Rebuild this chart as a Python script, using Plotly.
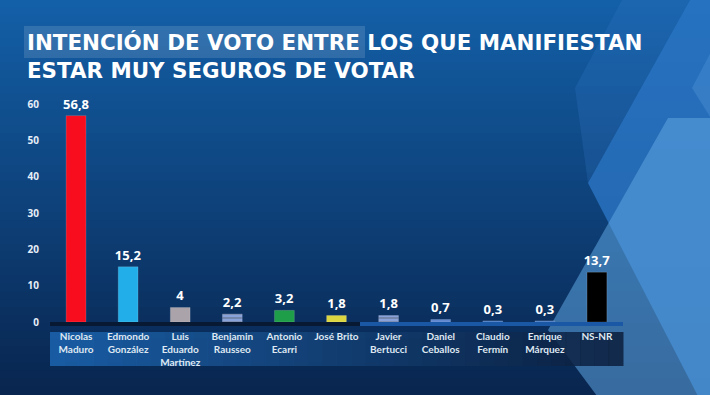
import plotly.graph_objects as go

categories = ["Nicolas<br>Maduro", "Edmondo<br>González", "Luis<br>Eduardo<br>Martínez",
              "Benjamin<br>Rausseo", "Antonio<br>Ecarri", "José Brito", "Javier<br>Bertucci",
              "Daniel<br>Ceballos", "Claudio<br>Fermín", "Enrique<br>Márquez", "NS-NR"]
values = [56.8, 15.2, 4, 2.2, 3.2, 1.8, 1.8, 0.7, 0.3, 0.3, 13.7]
value_labels = ["56,8", "15,2", "4", "2,2", "3,2", "1,8", "1,8", "0,7", "0,3", "0,3", "13,7"]
y_ticks = [0, 10, 20, 30, 40, 50, 60]
title_line1 = "INTENCIÓN DE VOTO ENTRE LOS QUE MANIFIESTAN"
title_line2 = "ESTAR MUY SEGUROS DE VOTAR"

bar_colors = ["#f70d1e", "#22aee8", "#aaa4aa", "#8aa2da", "#1e9e48", "#dcd640",
              "#8aa2da", "#5f88d0", "#3f72c0", "#3f72c0", "#000000"]
patterns = ["", "", "", "-", "", "", "-", "", "", "", ""]

W, H = 710, 395
L, R, T, B = 50, 87, 104, 73
pw, ph = W - L - R, H - T - B

def px(x, y):
    return (x - L) / pw, (H - B - y) / ph

def poly(pts, color):
    d = "M " + " L ".join(f"{px(x, y)[0]:.4f},{px(x, y)[1]:.4f}" for x, y in pts) + " Z"
    return dict(type="path", xref="paper", yref="paper", path=d, fillcolor=color,
                line_width=0, layer="below")

def prect(x0, y0, x1, y1, color, layer="below"):
    return dict(type="rect", xref="paper", yref="paper", layer=layer,
                x0=px(x0, 0)[0], x1=px(x1, 0)[0], y0=px(0, y1)[1], y1=px(0, y0)[1],
                fillcolor=color, line_width=0)

shapes = []
# vertical gradient background
n = 50
top = (20, 96, 168)
bot = (9, 38, 80)
for i in range(n):
    t = i / (n - 1)
    c = tuple(int(top[k] + (bot[k] - top[k]) * t) for k in range(3))
    shapes.append(prect(-5, H * i / n - 1, W + 5, H * (i + 1) / n + 1, f"rgb{c}"))

shapes.append(poly([(622, 0), (690, 0), (588, 183), (575, 88)], "rgba(50,120,200,0.25)"))
shapes.append(poly([(690, 0), (720, 0), (720, 400), (700, 400), (588, 183)], "rgba(45,120,200,0.75)"))
shapes.append(poly([(668, 118), (720, 118), (720, 400), (600, 400), (548, 330)], "rgba(95,165,225,0.55)"))
shapes.append(poly([(692, 88), (712, 50), (712, 120)], "rgba(70,140,210,0.5)"))
# title highlight
shapes.append(prect(24, 26, 365, 58, "rgba(255,255,255,0.13)"))

# category label box (horizontal gradient)
m = 40
for i in range(m):
    t = i / (m - 1)
    a = (int(28 + (12 - 28) * t), int(100 + (30 - 100) * t), int(175 + (60 - 175) * t))
    x0 = 50 + (623 - 50) * i / m
    x1 = 50 + (623 - 50) * (i + 1) / m + 0.5
    shapes.append(prect(x0, 332, x1, 366, f"rgba({a[0]},{a[1]},{a[2]},0.85)"))
# baseline
shapes.append(prect(50, 322, 360, 326, "#081a33", layer="above"))
shapes.append(prect(360, 322, 623, 326, "#1a58a6", layer="above"))

fig = go.Figure(go.Bar(
    x=categories, y=values, text=value_labels, textposition="outside",
    cliponaxis=False, constraintext="none",
    textfont=dict(family="Open Sans", size=13, color="white", weight="bold"),
    marker=dict(color=bar_colors, line=dict(color="rgba(255,255,255,0.15)", width=1),
                pattern=dict(shape=patterns, fgcolor="rgba(230,240,255,0.7)", size=4, solidity=0.3)),
    width=0.38,
))

fig.update_layout(
    width=W, height=H,
    margin=dict(l=L, r=R, t=T, b=B),
    paper_bgcolor="#0d4a8c", plot_bgcolor="rgba(0,0,0,0)",
    showlegend=False, shapes=shapes,
    xaxis=dict(showgrid=False, zeroline=False, showline=False, ticks="outside", ticklen=5,
               tickcolor="rgba(0,0,0,0)", tickangle=0,
               tickfont=dict(family="Lato", size=10, color="#dfe8f2", weight="bold")),
    yaxis=dict(range=[0, 60], tickvals=y_ticks, showgrid=False, zeroline=False, showline=False,
               ticks="outside", ticklen=8, tickcolor="rgba(0,0,0,0)",
               tickfont=dict(family="Open Sans", size=10, color="#e6eef8", weight="bold")),
    annotations=[
        dict(text=title_line1 + "<br>" + title_line2, xref="paper", yref="paper",
             x=px(25, 0)[0], y=px(0, 28)[1], xanchor="left", yanchor="top", align="left",
             showarrow=False,
             font=dict(family="DejaVu Sans", size=21.4, color="white", weight="bold")),
    ],
)

fig.write_html("out.html", config={"displayModeBar": False},
               post_script="document.body.style.margin='0';")
